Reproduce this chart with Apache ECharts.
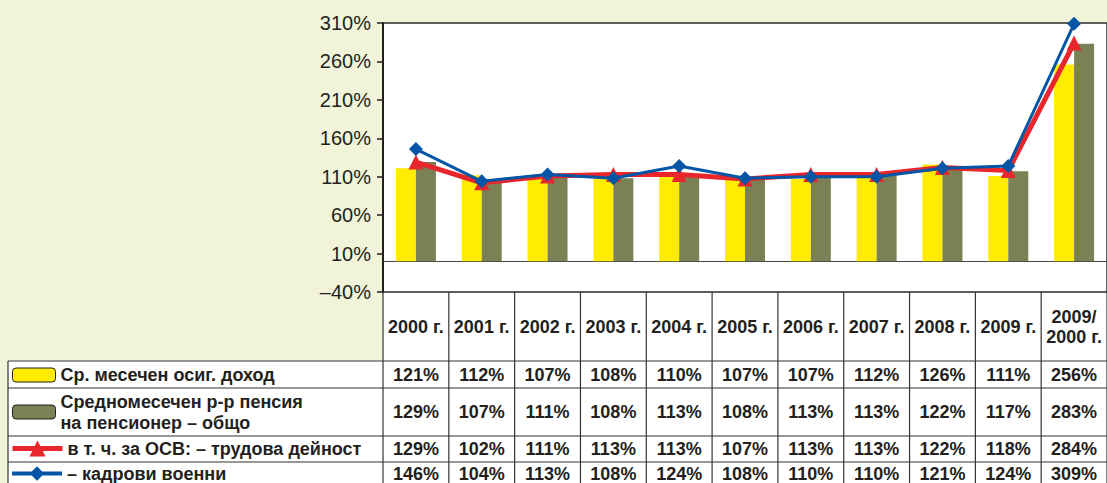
<!DOCTYPE html>
<html><head><meta charset="utf-8">
<script src="https://cdn.jsdelivr.net/npm/echarts@6/dist/echarts.min.js"></script>
<style>html,body{margin:0;padding:0;background:#F1F4D8;}#c{width:1107px;height:483px;}</style>
</head><body><div id="c"></div>
<script>
const categories = ['2000 г.','2001 г.','2002 г.','2003 г.','2004 г.','2005 г.','2006 г.','2007 г.','2008 г.','2009 г.','2009/\n2000 г.'];
const seriesNames = ['Ср. месечен осиг. доход','Средномесечен р-р пенсия\nна пенсионер – общо','в т. ч. за ОСВ: – трудова дейност','– кадрови военни'];
const income = [121,112,107,108,110,107,107,112,126,111,256];
const pensionTotal = [129,107,111,108,113,108,113,113,122,117,283];
const pensionLabour = [129,102,111,113,113,107,113,113,122,118,284];
const pensionMilitary = [146,104,113,108,124,108,110,110,121,124,309];
const seriesValues = [income, pensionTotal, pensionLabour, pensionMilitary];

const FONT = '"Liberation Sans", Arial, sans-serif';
const INK = '#231F20';
const colors = ['#FFEC00','#7B8154','#E8262C','#0256A5'];

const chart = echarts.init(document.getElementById('c'), null, {renderer:'svg'});
const rowTops = [361, 388, 436, 462];
const rowMids = [374.5, 412, 449, 474];
const legendTops = [364.5, 391, 438, 463];

chart.setOption({
  animation:false,
  backgroundColor:'#F1F4D8',
  grid:{left:383, right:0, top:23, bottom:191, show:true, backgroundColor:'#fff', borderColor:'#2a2a2a', borderWidth:1.5},
  xAxis:{type:'category', data:categories, axisLabel:{show:false}, axisTick:{show:false},
    axisLine:{onZero:true, lineStyle:{color:'#444', width:1}}},
  yAxis:{type:'value', min:-40, max:310, interval:50,
    axisLine:{show:true, onZero:false, lineStyle:{color:INK, width:2}},
    axisTick:{show:true, length:6, lineStyle:{color:INK, width:1.5}},
    splitLine:{show:false},
    axisLabel:{margin:12, fontSize:20, color:INK, fontFamily:FONT,
      formatter:v => (v<0 ? '–'+Math.abs(v) : v) + '%'}},
  legend: seriesNames.map((n,i) => ({
    data:[n], selectedMode:false, left: i<2 ? 12 : 10, top: legendTops[i],
    itemWidth: i<2 ? 43 : 50, itemHeight: i<2 ? 14 : (i===2 ? 20 : 18), itemGap:0,
    padding:0,
    textStyle:{fontSize:18, fontWeight:'bold', color:INK, fontFamily:FONT, lineHeight:21},
    itemStyle: i<2 ? {borderColor:INK, borderWidth:1} : {},
    lineStyle: i===2 ? {width:5} : (i===3 ? {width:4} : {})
  })),
  series:[
    {name:seriesNames[0], type:'bar', data:income, barWidth:20, barGap:'0%', itemStyle:{color:colors[0]}},
    {name:seriesNames[1], type:'bar', data:pensionTotal, barWidth:20, itemStyle:{color:colors[1]}},
    {name:seriesNames[2], type:'line', data:pensionLabour, symbol:'triangle', symbolSize:15,
      lineStyle:{color:colors[2], width:5}, itemStyle:{color:colors[2]}},
    {name:seriesNames[3], type:'line', data:pensionMilitary, symbol:'diamond', symbolSize:14,
      lineStyle:{color:colors[3], width:3}, itemStyle:{color:colors[3]}}
  ]
});

// data table drawn under the plot, aligned with the category axis
const centers = categories.map((c,i) => chart.convertToPixel({xAxisIndex:0}, i));
const colW = centers[1] - centers[0];
const bounds = centers.map(c => c - colW/2).concat([centers[centers.length-1] + colW/2]);
const x0 = bounds[0], xEnd = bounds[bounds.length-1];
const headerTop = 292, headerBottom = 361, tableBottom = 492;
const lineStyle = {stroke:'#333', lineWidth:1.2};
const g = [];
g.push({type:'rect', shape:{x:x0, y:headerTop, width:xEnd-x0, height:headerBottom-headerTop}, style:{fill:'#fff'}, z:-10});
g.push({type:'rect', shape:{x:8, y:headerBottom, width:xEnd-8, height:tableBottom-headerBottom}, style:{fill:'#fff'}, z:-10});
bounds.forEach(b => g.push({type:'line', shape:{x1:b, y1:headerTop, x2:b, y2:tableBottom}, style:lineStyle, z:5}));
g.push({type:'line', shape:{x1:8, y1:headerBottom, x2:8, y2:tableBottom}, style:lineStyle, z:5});
rowTops.forEach(y => g.push({type:'line', shape:{x1:8, y1:y, x2:xEnd, y2:y}, style:lineStyle, z:5}));
categories.forEach((c,i) => g.push({type:'text', x:centers[i], y:(headerTop+headerBottom)/2, z:6,
  style:{text:c, fill:INK, font:'bold 18px '+FONT, align:'center', verticalAlign:'middle', lineHeight:20}}));
seriesValues.forEach((vals,r) => vals.forEach((v,i) => g.push({type:'text', x:centers[i], y:rowMids[r], z:6,
  style:{text:v+'%', fill:INK, font:'bold 18px '+FONT, align:'center', verticalAlign:'middle'}})));
chart.setOption({graphic:{elements:g}});
</script></body></html>
